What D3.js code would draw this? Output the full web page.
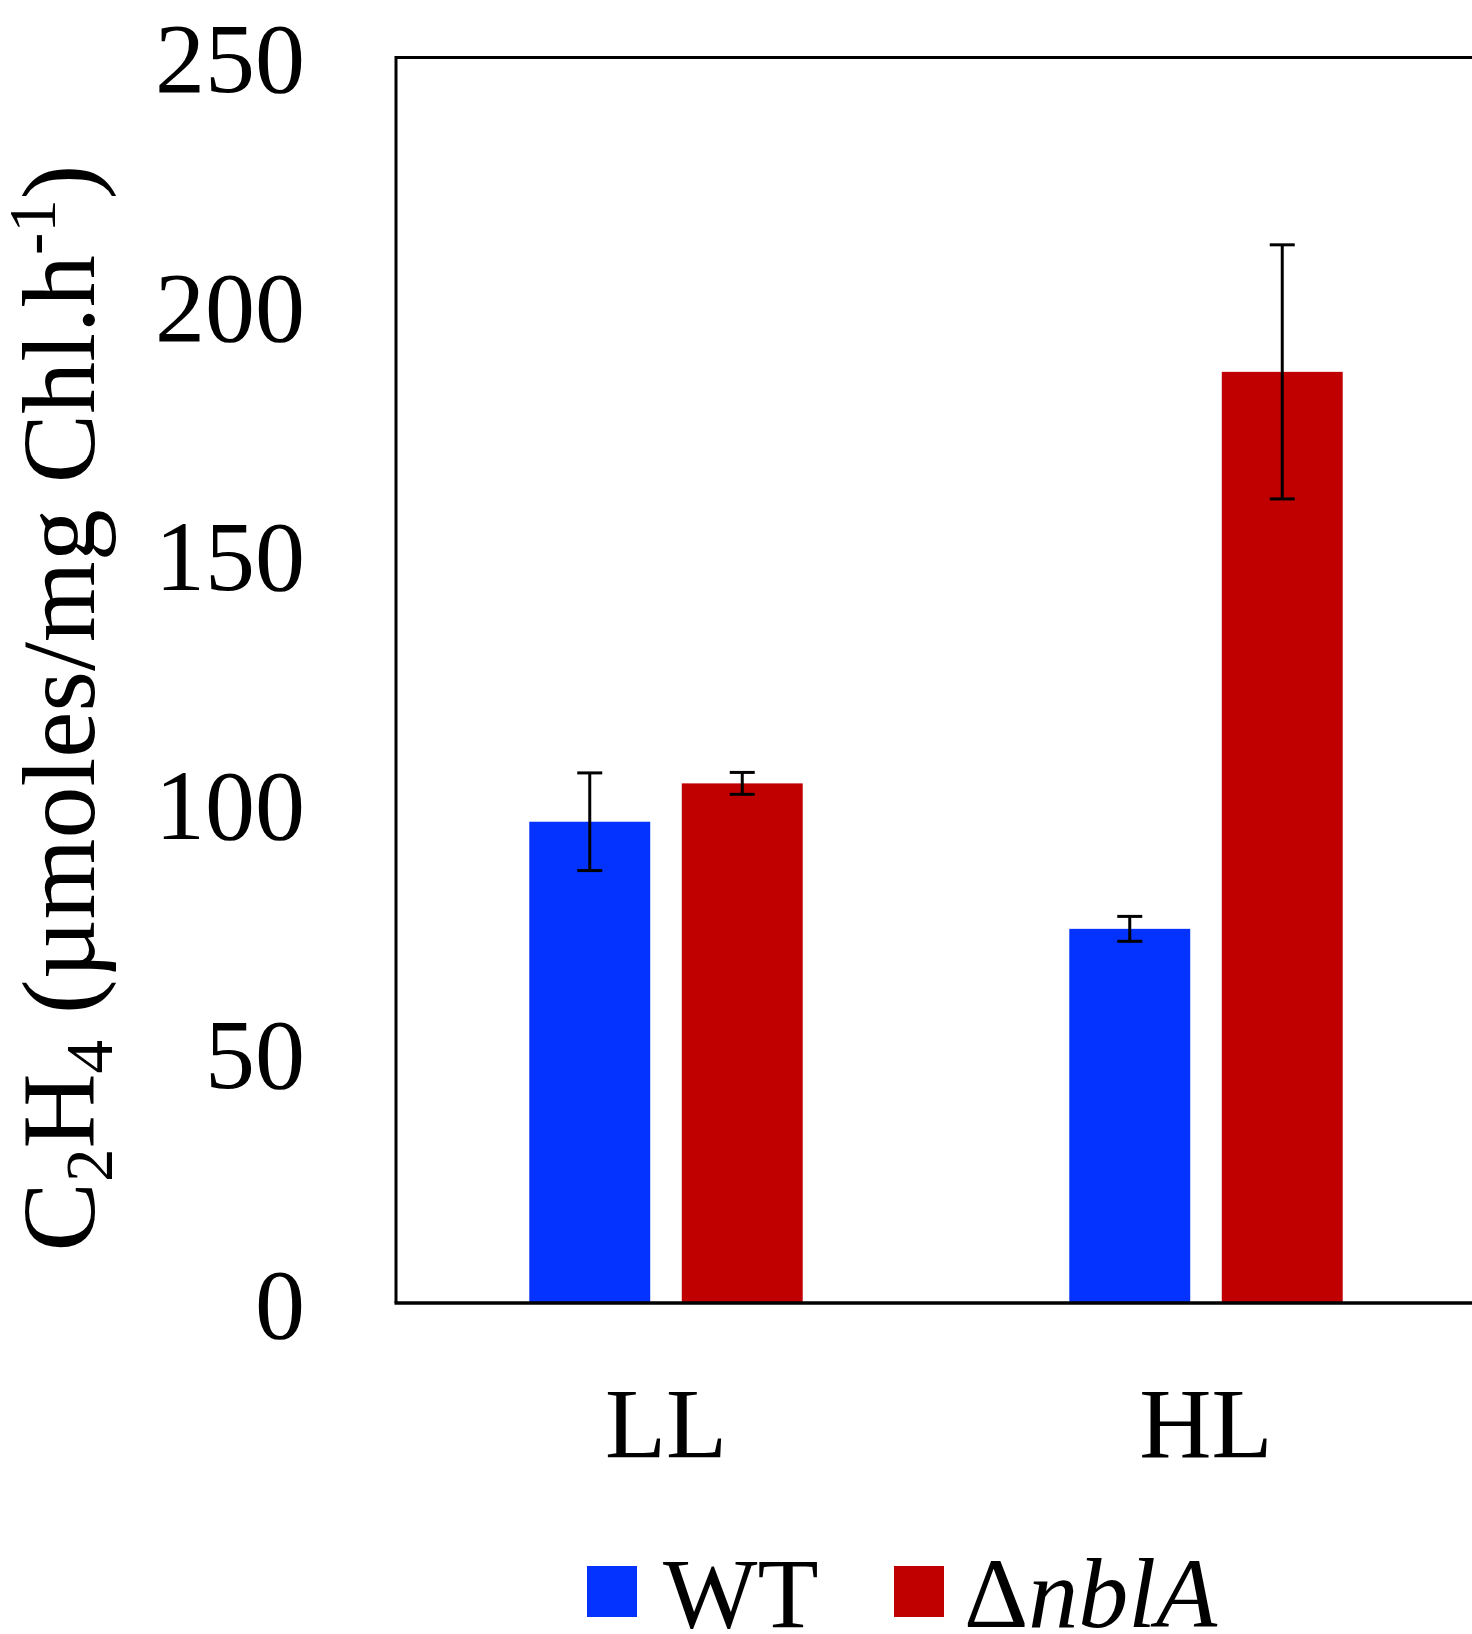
<!DOCTYPE html>
<html>
<head>
<meta charset="utf-8">
<script src="https://cdn.jsdelivr.net/npm/d3@7"></script>
<style>
  body { margin: 0; background: #fff; }
  svg { display: block; }
  text { font-family: "Liberation Serif", "Times New Roman", serif; fill: #000; }
</style>
</head>
<body>
<script>
// data
var categories = ["LL", "HL"];
var series = ["WT", "nblA"];
var wtValues = [96.6, 75.1];
var wtErrors = [9.8, 2.5];
var nblaValues = [104.3, 186.9];
var nblaErrors = [2.2, 25.5];
var yTicks = [0, 50, 100, 150, 200, 250];
var colors = ["#0433ff", "#c00000"];

var W = 1472, H = 1634;
// plot box runs a little past the right edge of the picture
var pLeft = 396, pRight = 1476, pTop = 57.5, pBottom = 1303;

var svg = d3.select("body").append("svg")
    .attr("width", W)
    .attr("height", H);

var y = d3.scaleLinear().domain([0, 250]).range([pBottom, pTop]);
var x0 = d3.scaleBand().domain(categories).range([pLeft, pRight]).padding(0);
var x1 = d3.scaleBand().domain(series).range([0, x0.bandwidth()])
    .paddingInner(0.207).paddingOuter(0.874);

var rows = [];
categories.forEach(function(c, i){
    rows.push({cat: c, s: "WT", v: wtValues[i], e: wtErrors[i]});
    rows.push({cat: c, s: "nblA", v: nblaValues[i], e: nblaErrors[i]});
});

// bars
svg.append("g").selectAll("rect")
    .data(rows)
    .enter().append("rect")
    .attr("x", function(d){ return x0(d.cat) + x1(d.s); })
    .attr("y", function(d){ return y(d.v); })
    .attr("width", x1.bandwidth())
    .attr("height", function(d){ return y(0) - y(d.v); })
    .style("fill", function(d){ return colors[series.indexOf(d.s)]; });

// error bars
var eg = svg.append("g").style("stroke", "#000").style("stroke-width", 3);
rows.forEach(function(d){
    var cx = x0(d.cat) + x1(d.s) + x1.bandwidth() / 2;
    eg.append("line").attr("x1", cx).attr("x2", cx)
        .attr("y1", y(d.v + d.e)).attr("y2", y(d.v - d.e));
    [d.v + d.e, d.v - d.e].forEach(function(v){
        eg.append("line").attr("x1", cx - 12.5).attr("x2", cx + 12.5)
            .attr("y1", y(v)).attr("y2", y(v));
    });
});

// frame
svg.append("path")
    .attr("d", "M" + pLeft + "," + pBottom + "V" + pTop + "H" + pRight + "V" + pBottom)
    .style("fill", "none").style("stroke", "#000").style("stroke-width", 3);
svg.append("line")
    .attr("x1", pLeft - 1.5).attr("x2", pRight)
    .attr("y1", pBottom).attr("y2", pBottom)
    .style("stroke", "#000").style("stroke-width", 3.5);

// y axis
var yAxis = svg.append("g")
    .attr("transform", "translate(" + pLeft + ",0)")
    .call(d3.axisLeft(y).tickValues(yTicks).tickSize(0).tickPadding(91));
yAxis.select(".domain").remove();
yAxis.selectAll("text").style("font-size", "100px").attr("font-family", null).attr("dy", "0.34em");

// x axis
var xAxis = svg.append("g")
    .attr("transform", "translate(0," + pBottom + ")")
    .call(d3.axisBottom(x0).tickSize(0).tickPadding(83));
xAxis.select(".domain").remove();
xAxis.selectAll("text").style("font-size", "100px").attr("font-family", null);

// y title
var t = svg.append("text")
    .attr("transform", "translate(94,708) rotate(-90)")
    .attr("text-anchor", "middle")
    .style("font-size", "104px");
t.append("tspan").text("C");
t.append("tspan").text("2").style("font-size", "67px").attr("dy", 18);
t.append("tspan").text("H").attr("dy", -18);
t.append("tspan").text("4").style("font-size", "67px").attr("dy", 18);
t.append("tspan").text(" (µmoles/mg Chl.h").attr("dy", -18);
t.append("tspan").text("-1").style("font-size", "67px").attr("dy", -39);
t.append("tspan").text(")").attr("dy", 39);

// legend
var legend = [
    {x: 587, tx: 663, label: "WT"},
    {x: 894, tx: 964, label: "nblA"}
];
legend.forEach(function(l, i){
    svg.append("rect").attr("x", l.x).attr("y", 1566)
        .attr("width", 50).attr("height", 51)
        .style("fill", colors[i]);
    var lt = svg.append("text").attr("x", l.tx).attr("y", 1627).style("font-size", "100px");
    if (l.label === "nblA") {
        lt.append("tspan").text("Δ");
        lt.append("tspan").text("nblA").style("font-style", "italic");
    } else {
        lt.text(l.label);
    }
});
</script>
</body>
</html>
